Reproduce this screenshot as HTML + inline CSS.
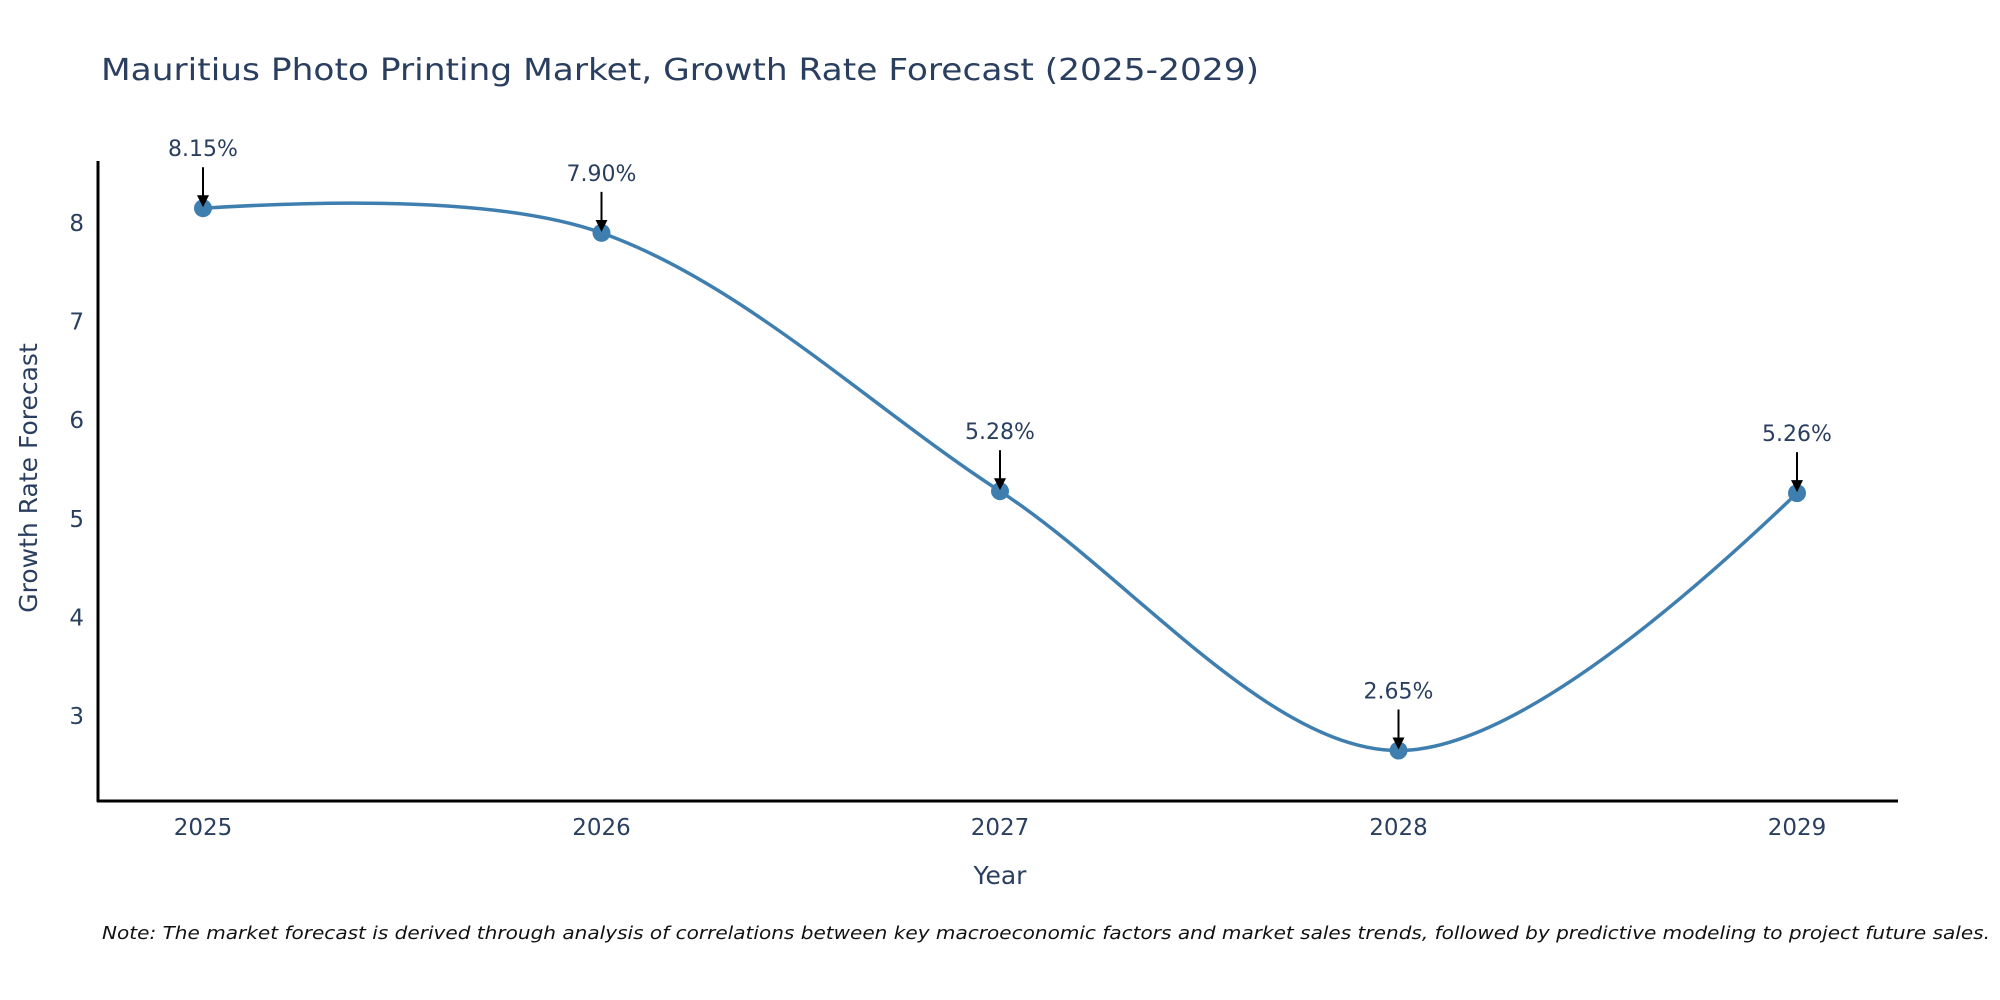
<!DOCTYPE html>
<html><head><meta charset="utf-8"><style>
html,body{margin:0;padding:0;background:#fff;}
svg{display:block;font-family:"DejaVu Sans","Liberation Sans",sans-serif;}
</style></head><body>
<svg id="chart" width="2000" height="1000" viewBox="0 0 2000 1000">
<rect width="2000" height="1000" fill="#fff"/>
<text x="101" y="80" font-size="30" fill="#2a3f5f" textLength="1158" lengthAdjust="spacingAndGlyphs">Mauritius Photo Printing Market, Growth Rate Forecast (2025-2029)</text>
<g id="yticks"></g>
<g id="xticks"></g>
<line x1="98" y1="161" x2="98" y2="802" stroke="#000" stroke-width="3"/>
<line x1="97" y1="801" x2="1898" y2="801" stroke="#000" stroke-width="3"/>
<path id="line" fill="none" stroke="#3f7fb0" stroke-width="3.5"/>
<g id="points"></g>
<g id="annots"></g>
<text x="0" y="0" transform="translate(37,478) rotate(-90)" text-anchor="middle" font-size="25" fill="#2a3f5f">Growth Rate Forecast</text>
<text x="1000" y="884" text-anchor="middle" font-size="25" fill="#2a3f5f">Year</text>
<text x="102" y="939" font-size="18" font-style="italic" fill="#111" textLength="1888" lengthAdjust="spacingAndGlyphs">Note: The market forecast is derived through analysis of correlations between key macroeconomic factors and market sales trends, followed by predictive modeling to project future sales.</text>
<defs><marker id="ah" markerWidth="6" markerHeight="6" refX="5" refY="3" orient="auto" markerUnits="strokeWidth"><path d="M0,0 L6,3 L0,6 Z" fill="#000"/></marker></defs>
</svg>
<script>
const years = [2025, 2026, 2027, 2028, 2029];
const growth = [8.15, 7.90, 5.28, 2.65, 5.26];
const labels = ["8.15%", "7.90%", "5.28%", "2.65%", "5.26%"];
const yTicks = [3, 4, 5, 6, 7, 8];

const NS = "http://www.w3.org/2000/svg";
function xs(v){ return 203 + (v - 2025) * 398.5; }
function ys(v){ return 223 + (8 - v) * 98.6; }
function mk(tag, attrs, parent){ const e=document.createElementNS(NS,tag); for(const k in attrs) e.setAttribute(k,attrs[k]); parent.appendChild(e); return e; }

const yt = document.getElementById('yticks');
yTicks.forEach(t=>{
  const e = mk('text',{x:84,y:ys(t)+8,'text-anchor':'end','font-size':'23',fill:'#2a3f5f'},yt);
  e.textContent = t;
  
  
});
const xt = document.getElementById('xticks');
years.forEach(y=>{
  const e = mk('text',{x:xs(y),y:835,'text-anchor':'middle','font-size':'23',fill:'#2a3f5f'},xt);
  e.textContent = y;
  
  
});

const P = years.map((y,i)=>[xs(y), ys(growth[i])]);
const n = P.length, s = 0.65;
const cin = [], cout = [];
for(let i=1;i<n-1;i++){
  const a=P[i-1], b=P[i], c=P[i+1];
  const d1=Math.hypot(b[0]-a[0],b[1]-a[1]), d2=Math.hypot(c[0]-b[0],c[1]-b[1]);
  const tx=c[0]-a[0], ty=c[1]-a[1];
  const f1=s*0.5*d1/(d1+d2), f2=s*0.5*d2/(d1+d2);
  cin[i]=[b[0]-tx*f1, b[1]-ty*f1];
  cout[i]=[b[0]+tx*f2, b[1]+ty*f2];
}
let d = `M${P[0][0]},${P[0][1]}`;
for(let i=0;i<n-1;i++){
  if(i===0) d += ` Q${cin[1][0]},${cin[1][1]} ${P[1][0]},${P[1][1]}`;
  else if(i===n-2) d += ` Q${cout[i][0]},${cout[i][1]} ${P[i+1][0]},${P[i+1][1]}`;
  else d += ` C${cout[i][0]},${cout[i][1]} ${cin[i+1][0]},${cin[i+1][1]} ${P[i+1][0]},${P[i+1][1]}`;
}
document.getElementById('line').setAttribute('d', d);

const pts = document.getElementById('points');
const an = document.getElementById('annots');
P.forEach((p,i)=>{
  const c = mk('circle',{cx:p[0],cy:p[1],r:9,fill:'#3f7fb0'},pts);
  
  
  const l = mk('line',{x1:p[0],y1:p[1]-41,x2:p[0],y2:p[1]-3,stroke:'#000','stroke-width':2,'marker-end':'url(#ah)'},an);
  
  
  const t = mk('text',{x:p[0],y:p[1]-52,'text-anchor':'middle','font-size':'22',fill:'#2a3f5f'},an);
  t.textContent = labels[i];
  
  
});
</script>
</body></html>
